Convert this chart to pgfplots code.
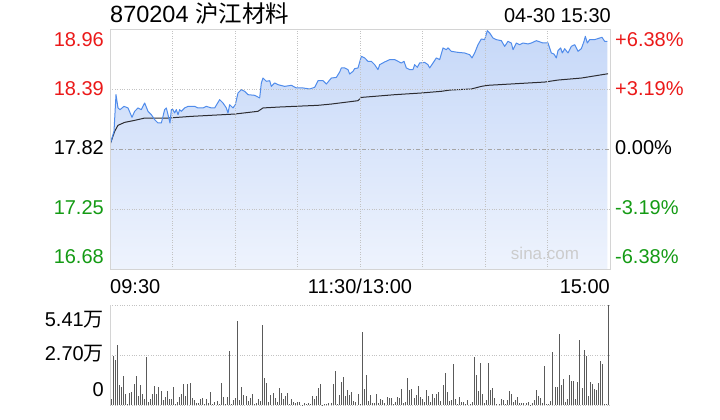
\documentclass[border=0pt]{standalone}
\usepackage{pgfplots}
\pgfplotsset{compat=1.18}
\usepackage{pgfplotstable}
\usepackage{fontspec}
\setmainfont{Liberation Sans}
\newfontfamily\cjk{Noto Sans CJK SC}
\definecolor{pline}{RGB}{80,140,235}
\definecolor{avgline}{RGB}{45,45,50}
\definecolor{upred}{RGB}{235,25,25}
\definecolor{dngreen}{RGB}{20,155,20}
\definecolor{volbar}{RGB}{90,90,90}
\definecolor{fillTop}{RGB}{198,216,248}
\definecolor{fillBot}{RGB}{238,243,253}
\definecolor{gridc}{RGB}{195,195,195}
\definecolor{framec}{RGB}{212,212,212}

\pgfplotstableread{
m p
0 17.86
0.96 17.925
1.92 17.988
2.88 18.336
3.84 18.21
4.8 18.194
6.72 18.225
8.64 18.21
10.56 18.121
11.84 18.178
13.44 18.21
15.04 18.194
16.64 18.257
18.24 18.178
19.84 18.146
21.44 18.099
23.04 18.067
24.64 18.067
26.24 18.194
27.04 18.21
27.84 18.146
28.8 18.067
29.44 18.194
30.24 18.194
31.04 18.162
31.84 18.194
32.64 18.146
33.44 18.194
34.24 18.178
35.84 18.21
37.44 18.225
40.64 18.225
42.24 18.21
44.64 18.21
46.24 18.225
48.64 18.21
50.24 18.21
52.64 18.289
54.24 18.257
55.84 18.21
56.64 18.162
57.44 18.241
59.04 18.21
60.16 18.241
61.44 18.352
63.04 18.384
64.64 18.368
66.24 18.336
69.44 18.33
71.84 18.305
72.64 18.447
73.44 18.494
75.04 18.463
76.64 18.469
77.44 18.415
79.04 18.447
80.64 18.431
83.84 18.415
87.04 18.425
89.44 18.40
92.64 18.40
95.84 18.39
98.24 18.406
99.84 18.469
102.24 18.469
103.84 18.437
106.24 18.494
108.64 18.50
110.24 18.551
111.04 18.59
112.64 18.59
114.24 18.574
115.04 18.532
116.64 18.558
117.44 18.583
119.04 18.59
120.64 18.70
122.24 18.685
123.84 18.653
125.44 18.653
127.04 18.621
128.64 18.574
129.44 18.621
131.84 18.647
134.24 18.669
136.64 18.669
138.24 18.653
139.84 18.637
141.12 18.653
142.24 18.59
143.84 18.574
145.44 18.574
146.24 18.621
147.52 18.596
148.64 18.637
151.04 18.643
152.64 18.621
153.44 18.59
155.04 18.637
156.64 18.685
158.24 18.669
159.84 18.78
161.44 18.764
162.24 18.78
163.84 18.748
167.04 18.738
170.24 18.732
172.64 18.716
173.76 18.685
175.04 18.732
176.64 18.811
178.24 18.865
179.84 18.859
181.12 18.944
182.24 18.922
183.84 18.874
185.44 18.859
187.84 18.849
189.44 18.795
191.04 18.843
192.64 18.827
193.44 18.764
195.04 18.827
196.64 18.811
198.24 18.827
200.64 18.818
202.24 18.827
204.64 18.849
207.84 18.827
210.24 18.827
211.84 18.732
213.12 18.722
214.24 18.685
215.04 18.754
216.32 18.78
217.12 18.732
218.24 18.773
219.84 18.732
221.44 18.795
223.04 18.811
224.64 18.748
226.24 18.773
227.52 18.843
228.16 18.89
229.12 18.827
230.24 18.859
232.64 18.859
235.04 18.874
236.16 18.881
237.44 18.843
238.72 18.843
}\pricedata

\pgfplotstableread{
m p
0 17.86
2.24 17.988
3.84 18.045
7.04 18.073
11.84 18.092
16.64 18.114
27.84 18.114
39.04 18.13
59.84 18.152
71.04 18.178
73.44 18.21
81.6 18.219
99.84 18.235
106.24 18.247
119.04 18.279
120.64 18.31
136.64 18.336
149.44 18.352
159.04 18.368
163.2 18.38
173.44 18.39
178.24 18.415
181.44 18.425
208.64 18.456
215.04 18.475
226.24 18.494
239.04 18.535
}\avgdata

\pgfplotstableread{
m v
0 0.32
1 2.65
2 2.43
3 3.25
4 1.08
5 0.96
6 1.57
7 0.59
8 0.05
9 0.67
10 0.72
11 1.14
12 1.57
13 0.49
14 1.08
15 0.59
16 0.32
17 2.60
18 0.18
19 0.32
20 0.59
21 1.03
22 0.59
23 0.96
24 0.76
25 0.27
26 0.43
27 0.76
28 0.32
29 0.32
30 0.97
31 0.05
32 0.16
33 0.43
34 0.59
35 1.14
36 0.49
37 1.14
38 1.19
39 0.38
40 0.27
41 0.11
42 0.11
43 0.32
44 0.38
45 0.05
46 0.32
47 0.09
48 0.70
49 0.07
50 0.16
51 0.22
52 0.05
53 1.19
54 0.43
55 0.05
56 0.43
57 2.92
58 0.05
59 0.27
60 0.38
61 4.54
62 0.27
63 0.97
64 0.54
65 0.49
66 0.22
67 0.38
68 0.59
69 0.05
70 0.11
71 0.32
72 0.22
73 4.33
74 1.46
75 1.19
76 0.16
77 0.54
78 0.65
79 0.38
80 0.16
81 0.92
82 0.65
83 0.32
84 0.49
85 0.65
86 0.05
87 0.32
88 0.16
89 0.11
90 0.16
91 0.16
92 0.02
93 0.11
94 0.05
95 0.11
96 0.05
97 0.49
98 0.32
99 0.49
100 0.92
101 1.14
102 0.02
103 0.05
104 0.05
105 0.11
106 0.11
107 1.14
108 1.84
109 0.05
110 0.54
111 1.24
112 1.51
113 0.49
114 0.81
115 0.54
116 0.70
117 0.22
118 0.16
119 0.59
120 0.05
121 3.95
122 0.87
123 1.62
124 0.22
125 0.54
126 0.11
127 0.11
128 0.59
129 0.11
130 0.32
131 0.27
132 0.11
133 0.43
134 0.38
135 0.38
136 0.05
137 0.16
138 0.43
139 0.38
140 0.87
141 0.11
142 0.16
143 1.46
144 0.81
145 0.87
146 0.38
147 0.54
148 1.03
149 0.43
150 0.32
151 0.16
152 0.81
153 0.49
154 0.16
155 0.59
156 0.38
157 0.59
158 0.70
159 0.22
160 1.08
161 1.73
162 0.70
163 0.22
164 0.27
165 2.22
166 0.32
167 0.05
168 0.43
169 0.16
170 0.16
171 0.05
172 0.27
173 0.05
174 0.16
175 2.60
176 1.62
177 0.76
178 2.27
179 0.59
180 0.11
181 0.27
182 2.27
183 0.81
184 0.92
185 0.38
186 0.05
187 0.05
188 0.32
189 0.27
190 0.05
191 0.27
192 0.76
193 0.59
194 0.16
195 0.27
196 0.43
197 0.11
198 0.11
199 0.11
200 0.11
201 0.16
202 0.02
203 0.11
204 0.27
205 0.81
206 0.49
207 0.38
208 0.11
209 2.11
210 0.05
211 0.05
212 0.22
213 2.87
214 0.97
215 0.97
216 3.84
217 1.08
218 1.41
219 0.16
220 0.32
221 1.62
222 1.30
223 1.30
224 0.32
225 1.24
226 3.52
227 0.92
228 2.98
229 2.65
230 0.49
231 1.24
232 1.14
233 0.87
234 0.81
235 1.19
236 2.38
237 2.22
238 0.05
239 0.05
240 5.41
}\voldata

\begin{document}
\begin{tikzpicture}[x=1pt,y=1pt]
\useasboundingbox[fill=white] (0,0) rectangle (720,420);

% price panel
\begin{axis}[
  at={(110pt,151pt)}, anchor=south west,
  width=500pt, height=240pt, scale only axis,
  xmin=0, xmax=240, ymin=16.68, ymax=18.96,
  xtick={30,60,...,210}, ytick={17.25,18.39},
  xticklabels={}, yticklabels={},
  major tick length=0pt,
  grid=major,
  major grid style={dotted, color=gridc, line width=0.8pt},
  axis line style={color=framec, line width=0.8pt},
  axis on top,
  clip=true,
]
\addplot[draw=none, top color=fillTop, bottom color=fillBot] table[x=m,y=p] {\pricedata}
  -- (axis cs:238.72,16.68) -- (axis cs:0,16.68) -- cycle;
\draw[color=gray!70, line width=0.8pt, dash pattern=on 4pt off 2pt on 1pt off 2pt] (axis cs:0,17.82) -- (axis cs:240,17.82);
\addplot[color=avgline, line width=1pt, no markers] table[x=m,y=p] {\avgdata};
\addplot[color=pline, line width=1pt, no markers, line join=round] table[x=m,y=p] {\pricedata};
\end{axis}

% volume panel
\begin{axis}[
  at={(110pt,15pt)}, anchor=south west,
  width=500pt, height=100pt, scale only axis,
  xmin=-0.6, xmax=240.5, ymin=0, ymax=5.41,
  axis x line=none, axis y line*=left,
  ytick={0,2.70,5.41}, yticklabels={}, xticklabels={},
  major tick length=0pt,
  ymajorgrids,
  major grid style={dotted, color=gridc, line width=0.8pt},
  axis line style={color=framec, line width=0.8pt, -},
  clip=false,
]
\addplot[ycomb, color=volbar, line width=1pt, no markers] table[x=m,y=v] {\voldata};
\end{axis}

% title
\node[anchor=base west, inner sep=0pt, font=\fontsize{23.5}{26}\selectfont] at (110,397) {870204 {\cjk 沪江材料}};
\node[anchor=base east, inner sep=0pt, font=\fontsize{20}{24}\selectfont] at (611,397) {04-30 15:30};

% labels
\begin{scope}[every node/.style={inner sep=0pt, font=\fontsize{20}{24}\selectfont}]
\node[anchor=east, text=upred] at (104,380) {18.96};
\node[anchor=east, text=upred] at (104,331) {18.39};
\node[anchor=east, text=black] at (104,272) {17.82};
\node[anchor=east, text=dngreen] at (104,212) {17.25};
\node[anchor=east, text=dngreen] at (104,163) {16.68};
\node[anchor=west, text=upred] at (615,380) {+6.38\%};
\node[anchor=west, text=upred] at (615,331) {+3.19\%};
\node[anchor=west, text=black] at (615,272) {0.00\%};
\node[anchor=west, text=dngreen] at (615,212) {-3.19\%};
\node[anchor=west, text=dngreen] at (615,163) {-6.38\%};
\node[anchor=base west] at (110,126) {09:30};
\node[anchor=base] at (360,126) {11:30/13:00};
\node[anchor=base east] at (610,126) {15:00};
\node[anchor=east] at (104,100) {5.41{\cjk 万}};
\node[anchor=east] at (104,66) {2.70{\cjk 万}};
\node[anchor=east] at (104,30) {0};
\end{scope}
\node[inner sep=0pt, text=gray!40, font=\fontsize{17}{20}\selectfont] at (545,167) {sina.com};
\end{tikzpicture}
\end{document}
